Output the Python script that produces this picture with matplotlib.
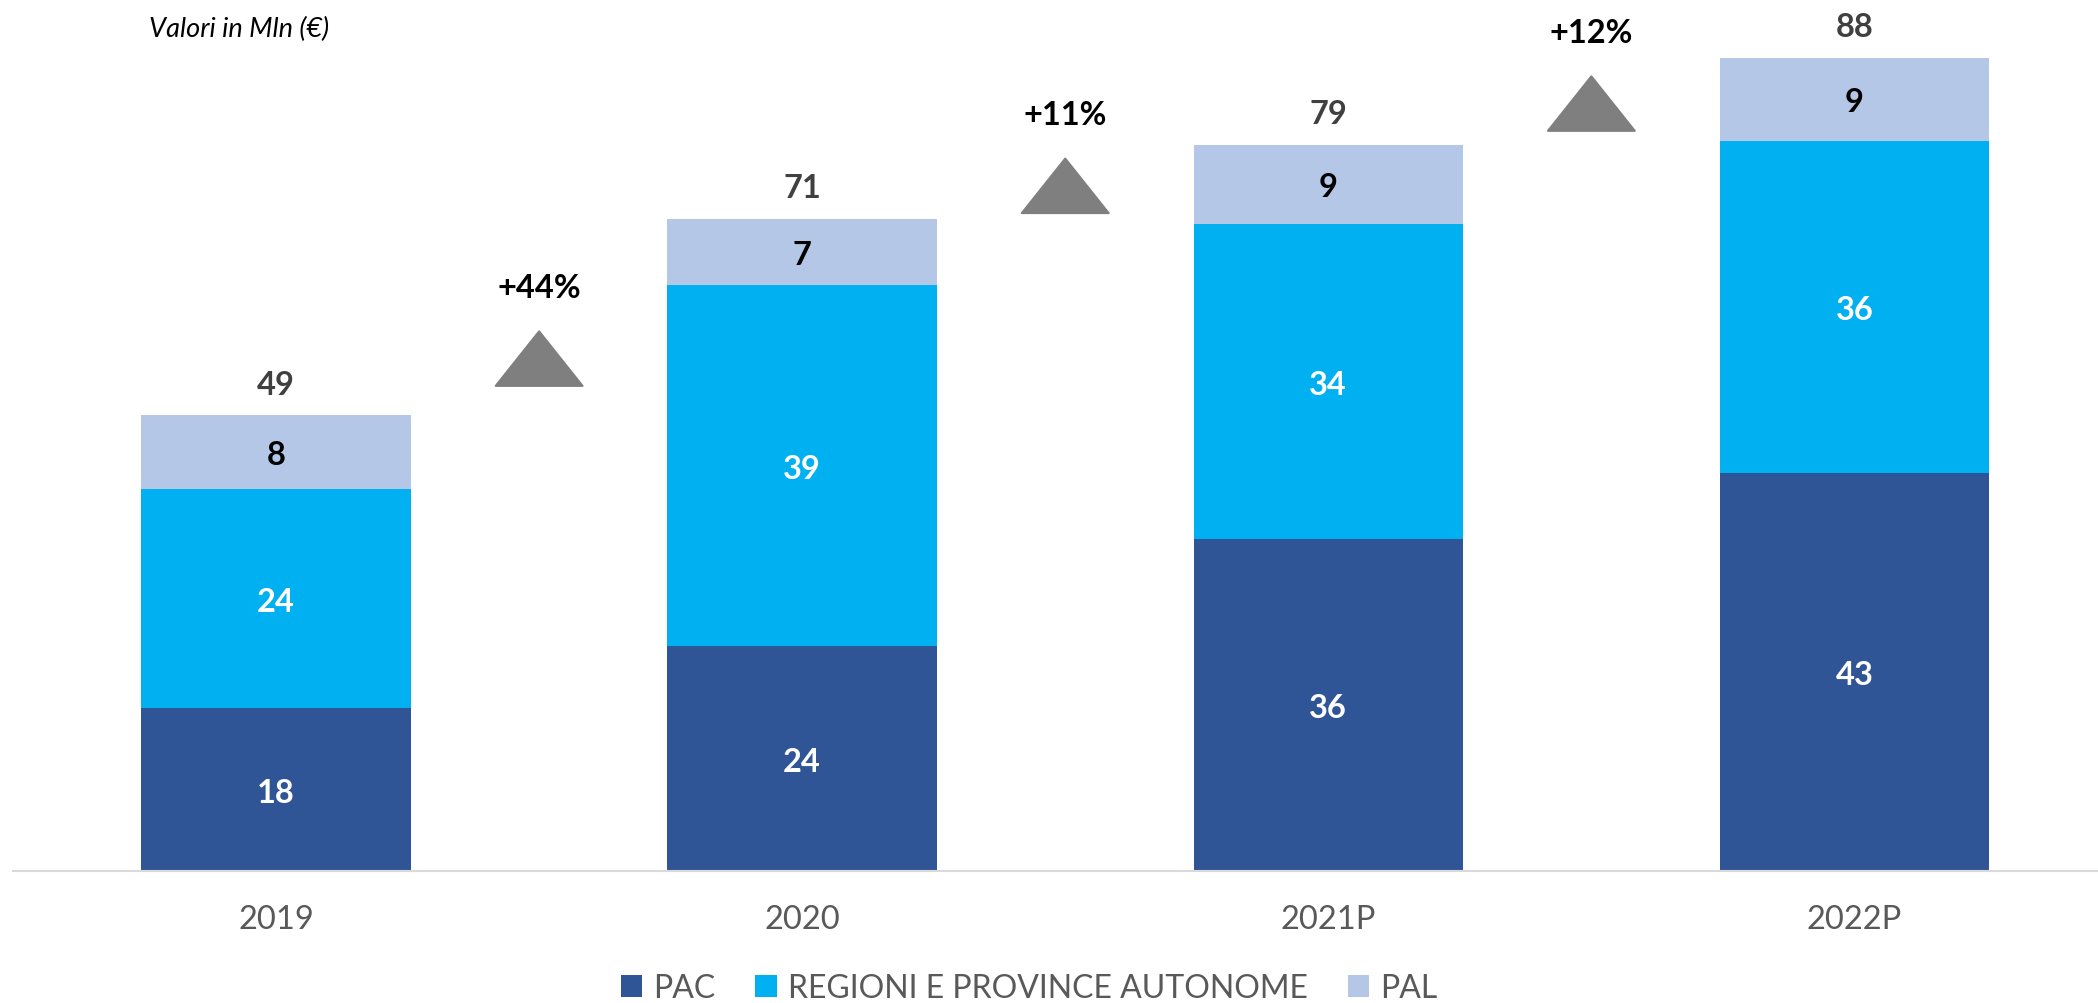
import numpy as np
import matplotlib
matplotlib.use("Agg")
import matplotlib.pyplot as plt
from matplotlib.patches import Patch, Polygon

plt.rcParams['font.family'] = ['Lato', 'DejaVu Sans']

# data (Mln €)
years = ["2019", "2020", "2021P", "2022P"]
pac = [17.6, 24.3, 35.9, 43.1]
regioni = [23.7, 39.1, 34.1, 35.9]
pal = [8.0, 7.2, 8.6, 9.0]
growth = ["+44%", "+11%", "+12%"]
series_names = ["PAC", "REGIONI E PROVINCE AUTONOME", "PAL"]

# style / layout
colors = ["#2F5597", "#00B0F0", "#B4C7E7"]
label_colors = ["white", "white", "black"]
arrow_base = [52.5, 71.2, 80.1]   # y of the grey triangles
fs = 23.5

fig = plt.figure(figsize=(20.98, 10.04), dpi=100)
ax = fig.add_axes([0.0062, 0.1315, 0.9938, 0.8685])

x = np.arange(len(years))
width = 0.512
bottom = np.zeros(len(years))
for vals, col, lc in zip([pac, regioni, pal], colors, label_colors):
    vals = np.array(vals)
    ax.bar(x, vals, width, bottom=bottom, color=col)
    for xi, b, v in zip(x, bottom, vals):
        ax.text(xi, b + v / 2, f"{v:.0f}", ha="center", va="center_baseline",
                fontsize=fs, fontweight="bold", color=lc)
    bottom += vals

# totals on top
for xi, t in zip(x, bottom):
    ax.annotate(f"{t:.0f}", (xi, t), xytext=(0, 15.8), textcoords="offset points",
                ha="center", va="baseline", fontsize=fs, fontweight="bold", color="#404040")

# growth triangles between bars
tri_w = 0.165
tri_h = 5.9
for i, g in enumerate(growth):
    cx = i + 0.5
    y0 = arrow_base[i]
    ax.add_patch(Polygon([[cx - tri_w / 2, y0], [cx + tri_w / 2, y0], [cx, y0 + tri_h]],
                         closed=True, facecolor="#7F7F7F", edgecolor="#7F7F7F",
                         linewidth=1.5, joinstyle="round"))
    ax.text(cx, y0 + tri_h + 3.7, g, ha="center", va="baseline",
            fontsize=fs, fontweight="bold", color="black")

ax.set_xlim(-0.5, 3.463)
ax.set_ylim(0, 94.37)
ax.set_xticks(x)
ax.set_xticklabels(years)
ax.set_yticks([])
ax.tick_params(axis="x", length=0, pad=24, labelsize=fs, labelcolor="#595959")
for s in ["top", "left", "right"]:
    ax.spines[s].set_visible(False)
ax.spines["bottom"].set_color("#D9D9D9")
ax.spines["bottom"].set_linewidth(1.5)

fig.text(149 / 2098, 1 - 37.3 / 1004, "Valori in Mln (€)", ha="left", va="baseline",
         style="italic", fontsize=19.5, color="black")

handles = [Patch(facecolor=c) for c in colors]
fig.legend(handles, series_names, loc="center", bbox_to_anchor=(0.4905, 0.0149),
           ncol=3, frameon=False, fontsize=23, handlelength=0.66, handleheight=0.66,
           handletextpad=0.35, columnspacing=1.25, borderpad=0, labelcolor="#595959")

fig.savefig("out.png", dpi=100)
